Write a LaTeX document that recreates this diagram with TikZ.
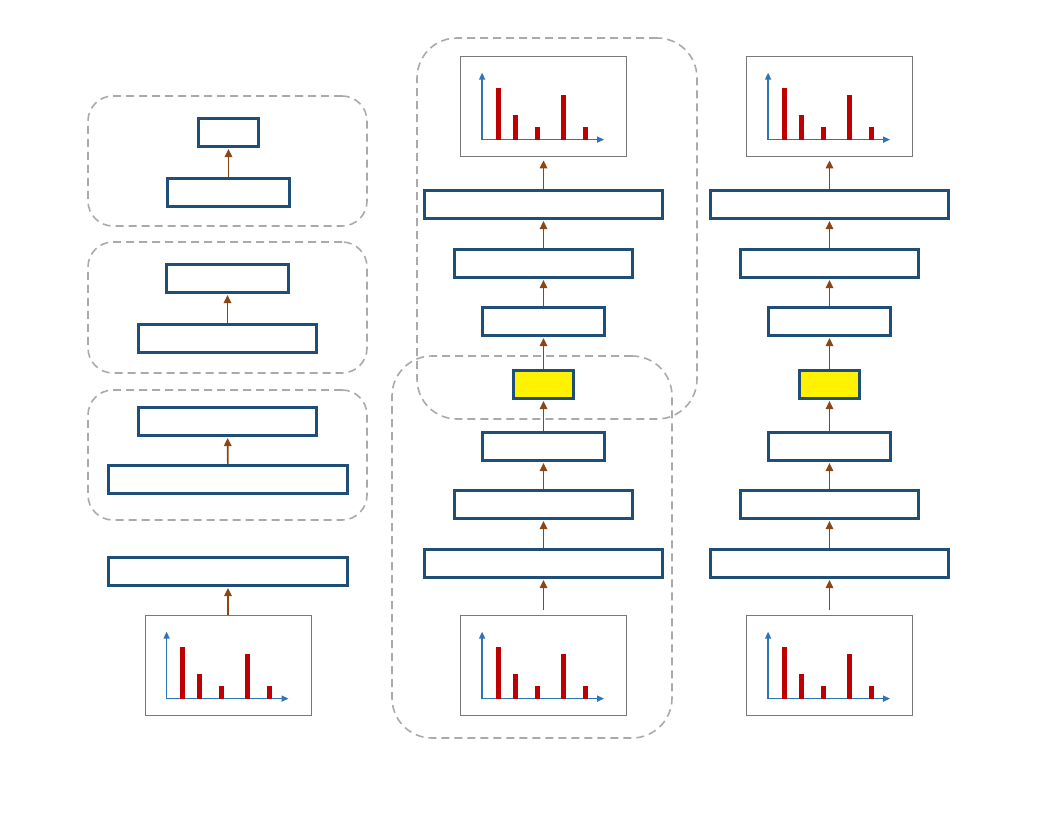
\documentclass[tikz,border=0pt]{standalone}
\usetikzlibrary{arrows.meta}
\definecolor{boxblue}{RGB}{31,78,121}
\definecolor{arrowbrown}{RGB}{140,70,20}
\definecolor{axisblue}{RGB}{46,117,182}
\definecolor{barred}{RGB}{192,0,0}
\definecolor{groupgray}{RGB}{170,170,170}
\definecolor{chartgray}{RGB}{120,120,120}

\begin{document}
\begin{tikzpicture}[
  x=1pt, y=-1pt,
  block/.style={draw=boxblue, line width=2.6pt, fill=white, minimum height=28.5pt, inner sep=0pt},
  hot/.style={block, fill=yellow, minimum width=60.5pt},
  chart/.style={draw=chartgray, line width=0.8pt, minimum width=166pt, minimum height=100pt, inner sep=0pt},
  group/.style={draw=groupgray, line width=1.6pt, dash pattern=on 8pt off 5pt, inner sep=0pt},
  arr/.style={-{Triangle[length=8pt,width=7.5pt]}, line width=1.7pt, color=arrowbrown, shorten >=1pt},
  axis/.style={-{Triangle[length=7pt,width=6pt]}, line width=1.4pt, color=axisblue},
  bar/.style={line width=5pt, color=barred},
]
\useasboundingbox (0,0) rectangle (1056,816);

% dashed groups
\node[group, rounded corners=25pt, minimum width=279pt, minimum height=130pt] (grpA) at (227.5,161) {};
\node[group, rounded corners=25pt, minimum width=279pt, minimum height=131pt] (grpB) at (227.5,307.5) {};
\node[group, rounded corners=25pt, minimum width=279pt, minimum height=130pt] (grpC) at (227.5,455) {};
\node[group, rounded corners=40pt, minimum width=280pt, minimum height=381pt] (grpTop) at (557,228.5) {};
\node[group, rounded corners=40pt, minimum width=280pt, minimum height=382pt] (grpBot) at (532,547) {};

% left column
\node[block, minimum width=60.5pt] (lA1) at (228.5,132.5) {};
\node[block, minimum width=122.5pt] (lA2) at (228.5,192.5) {};
\node[block, minimum width=122.5pt] (lB1) at (227.5,278.5) {};
\node[block, minimum width=178.5pt] (lB2) at (227.5,338.5) {};
\node[block, minimum width=178.5pt] (lC1) at (227.5,421.5) {};
\node[block, minimum width=239.5pt] (lC2) at (228,479.5) {};
\node[block, minimum width=239.5pt] (lD) at (228,571.5) {};
\node[chart] (lIn) at (228,665) {};

\draw[arr] (lA2) -- (lA1);
\draw[arr] (lB2) -- (lB1);
\draw[arr] (lC2) -- (lC1);
\draw[arr] (lIn) -- (lD);

% middle and right columns
\foreach \col/\cx in {m/543.5, r/829.5} {
  \node[chart] (\col Out) at (\cx,106) {};
  \node[block, minimum width=238.5pt] (\col 1) at (\cx,204.5) {};
  \node[block, minimum width=177.5pt] (\col 2) at (\cx,263.5) {};
  \node[block, minimum width=121.5pt] (\col 3) at (\cx,321.5) {};
  \node[hot] (\col Hot) at (\cx,384.5) {};
  \node[block, minimum width=121.5pt] (\col 4) at (\cx,446.5) {};
  \node[block, minimum width=177.5pt] (\col 5) at (\cx,504.5) {};
  \node[block, minimum width=238.5pt] (\col 6) at (\cx,563.5) {};
  \node[chart] (\col In) at (\cx,665) {};

  \draw[arr, shorten <=5pt] (\col In) -- (\col 6);
  \draw[arr] (\col 6) -- (\col 5);
  \draw[arr] (\col 5) -- (\col 4);
  \draw[arr] (\col 4) -- (\col Hot);
  \draw[arr] (\col Hot) -- (\col 3);
  \draw[arr] (\col 3) -- (\col 2);
  \draw[arr] (\col 2) -- (\col 1);
  \draw[arr, shorten >=4pt] (\col 1) -- (\col Out);
}

% spectra inside the charts
\foreach \c in {lIn, mIn, rIn, mOut, rOut} {
  \draw[axis] ([shift={(22,84)}]\c.north west) -- ([shift={(22,17)}]\c.north west);
  \draw[axis] ([shift={(22,84)}]\c.north west) -- ([shift={(144,84)}]\c.north west);
  \foreach \bx/\by in {38/32, 55/59, 77/71, 103/39, 125/71}
    \draw[bar] ([shift={(\bx,84)}]\c.north west) -- ([shift={(\bx,\by)}]\c.north west);
}
\end{tikzpicture}
\end{document}
